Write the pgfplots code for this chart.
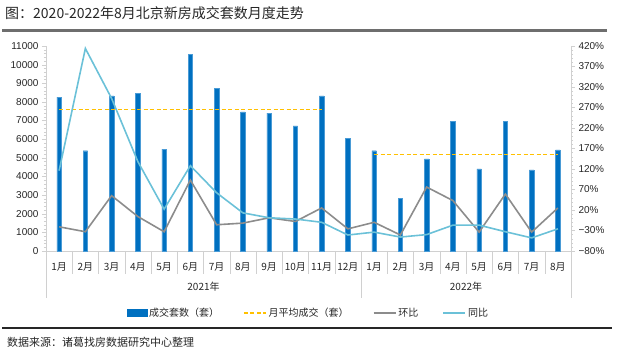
\documentclass[border=0pt]{standalone}
\usepackage{pgfplots}
\pgfplotsset{compat=1.18}
\usepackage{fontspec}
\setmainfont{Liberation Sans}
\newfontfamily\cjk{Noto Sans CJK SC}

\definecolor{barblue}{HTML}{0070C0}
\definecolor{baredge}{HTML}{4A9BD6}
\definecolor{avgyellow}{HTML}{FFC000}
\definecolor{hbgray}{HTML}{8C8C8C}
\definecolor{tblue}{HTML}{6BC1D8}
\definecolor{axgray}{HTML}{D0D0D0}
\definecolor{txt}{HTML}{262626}
\definecolor{rulegray}{HTML}{6E6E6E}
\definecolor{ruledark}{HTML}{262626}

\begin{document}
\begin{tikzpicture}[x=1pt,y=1pt]
\useasboundingbox (0,0) rectangle (624,361);
\node[anchor=west, font=\cjk\fontsize{14}{16}\selectfont, text=txt, inner sep=0] at (5,348) {图：2020-2022年8月北京新房成交套数月度走势};
\node[anchor=west, font=\cjk\fontsize{11}{13}\selectfont, text=txt, inner sep=0] at (7,19) {数据来源：诸葛找房数据研究中心整理};

\begin{axis}[
  at={(46pt,110pt)}, anchor=south west,
  width=525pt, height=205pt, scale only axis,
  xmin=-0.5, xmax=19.5, ymin=0, ymax=11000,
  axis y line*=left, axis x line*=bottom,
  axis line style={axgray},
  ytick={0,1000,...,11000},
  yticklabels={0,1000,2000,3000,4000,5000,6000,7000,8000,9000,10000,11000},
  scaled y ticks=false,
  minor y tick num=4,
  tick align=outside,
  major tick length=4pt, minor tick length=2pt,
  ytick style={axgray},
  y tick label style={font=\fontsize{10}{12}\selectfont, text=txt},
  xtick={0,...,19},
  xticklabels={1月,2月,3月,4月,5月,6月,7月,8月,9月,10月,11月,12月,1月,2月,3月,4月,5月,6月,7月,8月},
  x tick label style={font=\cjk\fontsize{10}{12}\selectfont, text=txt, yshift=-4pt},
  xtick style={draw=none},
  legend image code/.code={\draw[#1] (0pt,0pt) -- (22pt,0pt);},
  legend style={at={(axis description cs:0.5,-0.302)}, anchor=center, draw=none, fill=none,
     legend columns=4, font=\cjk\fontsize{10}{12}\selectfont, text=txt,
     /tikz/every even column/.append style={column sep=22pt}},
  clip=false,
]
\addplot[ybar, bar width=4.6pt, fill=barblue, draw=baredge, line width=0.4pt,
  legend image code/.code={\fill[barblue] (0pt,-3.5pt) rectangle (20pt,3.5pt);}]
  coordinates {(0,8250) (1,5380) (2,8320) (3,8460) (4,5470) (5,10550) (6,8730) (7,7460) (8,7400) (9,6710) (10,8320) (11,6050)
               (12,5380) (13,2810) (14,4940) (15,6960) (16,4400) (17,6960) (18,4350) (19,5420)};
\addplot[draw=avgyellow, line width=1.4pt, dash pattern=on 4pt off 2.5pt] coordinates {(12,5170) (19,5170)};
\addplot[draw=avgyellow, line width=1.4pt, dash pattern=on 4pt off 2.5pt, forget plot] coordinates {(0,7600) (10,7600)};
\addlegendimage{hbgray, line width=1.8pt}
\addlegendimage{tblue, line width=1.8pt}
\legend{成交套数（套）,月平均成交（套）,环比,同比}
\pgfplotsinvokeforeach{1,...,11,13,14,...,19}{\draw[axgray] (axis cs:#1-0.5,0) -- ++(0pt,-23pt);}
\pgfplotsinvokeforeach{0,12,20}{\draw[axgray] (axis cs:#1-0.5,0) -- ++(0pt,-47pt);}
\node[font=\cjk\fontsize{10}{12}\selectfont, text=txt] at (axis cs:5.5,0) [yshift=-36pt] {2021年};
\node[font=\cjk\fontsize{10}{12}\selectfont, text=txt] at (axis cs:15.5,0) [yshift=-36pt] {2022年};
\end{axis}

\begin{axis}[
  at={(46pt,110pt)}, anchor=south west,
  width=525pt, height=205pt, scale only axis,
  xmin=-0.5, xmax=19.5, ymin=-80, ymax=420,
  axis y line*=right, axis x line=none,
  axis line style={axgray},
  ytick={-80,-30,...,420},
  yticklabels={−80\%,−30\%,20\%,70\%,120\%,170\%,220\%,270\%,320\%,370\%,420\%},
  minor y tick num=4,
  tick align=outside,
  major tick length=4pt, minor tick length=2pt,
  ytick style={axgray},
  y tick label style={font=\fontsize{10}{12}\selectfont, text=txt},
]
\addplot[hbgray, line width=1.6pt] coordinates {(0,-21) (1,-33) (2,55) (3,4) (4,-33) (5,93) (6,-16) (7,-12) (8,1) (9,-8) (10,25) (11,-26)
   (12,-10) (13,-41) (14,76) (15,43) (16,-34) (17,59) (18,-34) (19,25)};
\addplot[tblue, line width=1.6pt] coordinates {(0,116) (1,414) (2,292) (3,138) (4,22) (5,128) (6,62) (7,13) (8,1) (9,-2) (10,-10) (11,-41)
   (12,-34) (13,-46) (14,-40) (15,-17) (16,-17) (17,-33) (18,-48) (19,-26)};
\end{axis}
\fill[rulegray] (2pt,329pt) rectangle (607pt,331.5pt);
\fill[ruledark] (2pt,32pt) rectangle (612pt,34pt);
\end{tikzpicture}
\end{document}
